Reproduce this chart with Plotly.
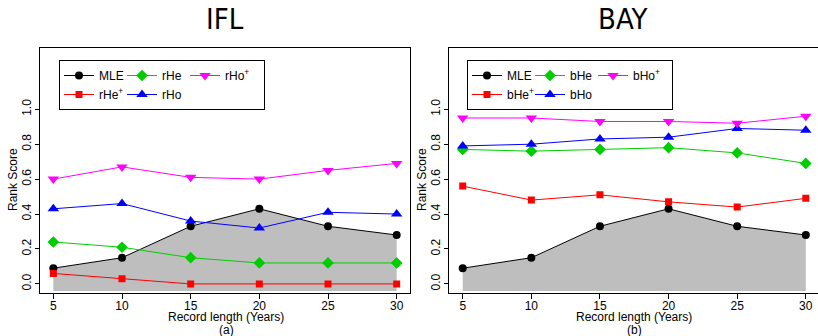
import plotly.graph_objects as go

# record length (years)
years = [5, 10, 15, 20, 25, 30]

# MLE is shared by both panels
mle = [0.09, 0.15, 0.33, 0.43, 0.33, 0.28]

# IFL panel
r_he_plus = [0.06, 0.03, 0.0, 0.0, 0.0, 0.0]
r_he = [0.24, 0.21, 0.15, 0.12, 0.12, 0.12]
r_ho = [0.43, 0.46, 0.36, 0.32, 0.41, 0.40]
r_ho_plus = [0.60, 0.67, 0.61, 0.60, 0.65, 0.69]

# BAY panel
b_he_plus = [0.56, 0.48, 0.51, 0.47, 0.44, 0.49]
b_he = [0.77, 0.76, 0.77, 0.78, 0.75, 0.69]
b_ho = [0.79, 0.80, 0.83, 0.84, 0.89, 0.88]
b_ho_plus = [0.95, 0.95, 0.93, 0.93, 0.92, 0.96]

y_tickvals = [0, 0.2, 0.4, 0.6, 0.8, 1.0]
y_ticktext = ["0.0", "0.2", "0.4", "0.6", "0.8", "1.0"]

FILL_BASE = -0.04
W, H = 818, 336
FONT = "Liberation Sans, Arial, sans-serif"

fig = go.Figure()


def add_panel(xa, ya, leg, series):
    # grey area under the MLE curve
    fig.add_trace(go.Scatter(x=years, y=[FILL_BASE] * len(years), mode="lines",
                             line=dict(width=0), showlegend=False, hoverinfo="skip",
                             xaxis=xa, yaxis=ya))
    fig.add_trace(go.Scatter(x=years, y=mle, mode="lines", fill="tonexty",
                             fillcolor="#bebebe", line=dict(width=0), showlegend=False,
                             hoverinfo="skip", xaxis=xa, yaxis=ya))
    for name, vals, color, symbol, size, grp in series:
        fig.add_trace(go.Scatter(
            x=years, y=vals, name=name, mode="lines+markers",
            line=dict(color=color, width=1),
            marker=dict(color=color, symbol=symbol, size=size, line=dict(width=0)),
            legend=leg, legendgroup=leg + grp, legendwidth=34 if grp == "c" else None,
            xaxis=xa, yaxis=ya))


add_panel("x", "y", "legend", [
    ("MLE", mle, "black", "circle", 8, "a"),
    ("rHe<sup>+</sup>", r_he_plus, "#ff0000", "square", 7, "a"),
    ("rHe", r_he, "#00cd00", "diamond", 9, "b"),
    ("rHo", r_ho, "#0000ff", "triangle-up", 10, "b"),
    ("rHo<sup>+</sup>", r_ho_plus, "#ff00ff", "triangle-down", 10, "c"),
])
add_panel("x2", "y2", "legend2", [
    ("MLE", mle, "black", "circle", 8, "a"),
    ("bHe<sup>+</sup>", b_he_plus, "#ff0000", "square", 7, "a"),
    ("bHe", b_he, "#00cd00", "diamond", 9, "b"),
    ("bHo", b_ho, "#0000ff", "triangle-up", 10, "b"),
    ("bHo<sup>+</sup>", b_ho_plus, "#ff00ff", "triangle-down", 10, "c"),
])

xcommon = dict(tickvals=years, showgrid=False, zeroline=False,
               showline=True, mirror=True, linecolor="black", linewidth=1,
               ticks="outside", ticklen=5, tickcolor="black", ticklabelstandoff=-3,
               tickfont=dict(size=12, color="black"))
ycommon = dict(range=[-0.052, 1.353], tickvals=y_tickvals, ticktext=y_ticktext,
               tickangle=-90, showgrid=False, zeroline=False,
               showline=True, mirror=True, linecolor="black", linewidth=1,
               ticks="outside", ticklen=4, tickcolor="black", ticklabelstandoff=-1,
               tickfont=dict(size=12, color="black"))

legcommon = dict(orientation="h", traceorder="grouped", entrywidth=18,
                 bgcolor="white", bordercolor="black", borderwidth=1,
                 font=dict(size=12, color="black", family=FONT),
                 xanchor="left", yanchor="top", y=1 - 60 / H)

fig.update_layout(
    width=W, height=H,
    margin=dict(l=0, r=0, t=0, b=0),
    paper_bgcolor="white", plot_bgcolor="white",
    font=dict(family=FONT, color="black"),
    xaxis=dict(domain=[39.6 / W, 410.4 / W], anchor="y", range=[4, 31], **xcommon),
    yaxis=dict(domain=[1 - 293 / H, 1 - 47.6 / H], anchor="x", **ycommon),
    xaxis2=dict(domain=[449 / W, 1.0], anchor="y2", range=[4, 30.89], **xcommon),
    yaxis2=dict(domain=[1 - 293 / H, 1 - 47.6 / H], anchor="x2", **ycommon),
    legend=dict(x=59 / W, **legcommon),
    legend2=dict(x=467 / W, **legcommon),
)


def note(txt, px, py, size=12, **kw):
    fig.add_annotation(text=txt, x=px / W, y=1 - py / H, xref="paper", yref="paper",
                       xanchor="center", yanchor="middle", showarrow=False,
                       font=dict(size=size, color="black", family=kw.pop("family", FONT)), **kw)


title_family = "DejaVu Sans Condensed, DejaVu Sans, sans-serif"
note("IFL", 224.5, 19, size=29, family=title_family)
note("BAY", 623, 19, size=29, family=title_family)
for cx in (226, 634):
    note("Record length (Years)", cx, 317)
note("(a)", 226, 330)
note("(b)", 634, 330)
note("Rank Score", 13, 180, textangle=-90)
note("Rank Score", 422, 180, textangle=-90)

fig.write_html("out.html", config={"displayModeBar": False},
               post_script="document.body.style.margin='0px';")
